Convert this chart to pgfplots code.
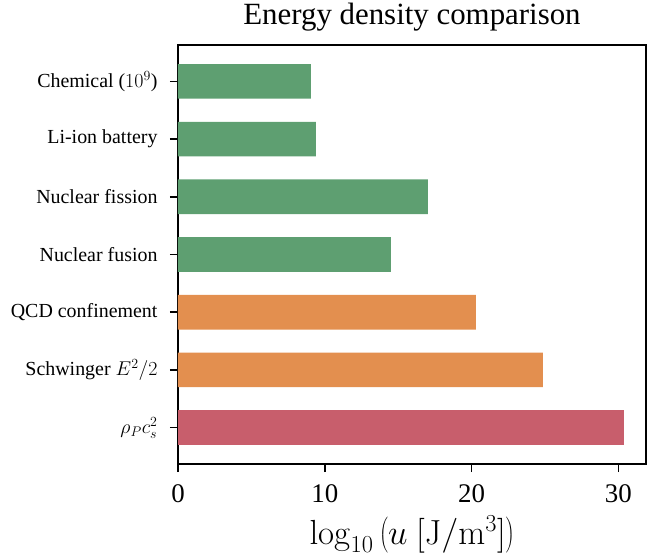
\documentclass[border=0pt]{standalone}
\usepackage{fix-cm}
\usepackage[no-math]{fontspec}
\setmainfont{Liberation Serif}
\usepackage{pgfplots}
\pgfplotsset{compat=1.18}
\definecolor{cgreen}{RGB}{94,159,113}
\definecolor{corange}{RGB}{227,143,79}
\definecolor{cred}{RGB}{200,94,108}
\pgfplotstableread{
y x
0 9.05
1 9.39
2 17.02
3 14.50
}\greentab
\pgfplotstableread{
y x
4 20.29
5 24.86
}\orangetab
\pgfplotstableread{
y x
6 30.37
}\redtab
\begin{document}
\begin{tikzpicture}
\begin{axis}[
  xbar, bar shift=0pt, bar width=0.6,
  scale only axis,
  width=468bp, height=419bp,
  xmin=0, xmax=31.88,
  ymin=-0.63, ymax=6.63,
  y dir=reverse,
  ytick={0,1,2,3,4,5,6},
  yticklabels={Chemical ($10^9$), Li-ion battery, Nuclear fission, Nuclear fusion, QCD confinement, Schwinger $E^2/2$, $\rho_P c_s^2$},
  xtick={0,10,20,30},
  tick align=outside,
  xtick pos=bottom, ytick pos=left,
  major tick length=8bp,
  tick style={black, line width=1.5bp},
  axis line style={black, line width=1.8bp},
  /pgf/number format/assume math mode=true,
  y tick label style={font=\fontsize{20}{22}\selectfont, xshift=-9bp},
  x tick label style={font=\fontsize{27}{30}\selectfont, yshift=-9bp},
  title={Energy density comparison},
  title style={font=\fontsize{31}{35}\selectfont, yshift=4bp},
  xlabel={$\log_{10}\left(u\ [\mathrm{J/m^3}]\right)$},
  xlabel style={font=\fontsize{35}{39}\selectfont, at={(axis description cs:0.5,0)}, anchor=base, yshift=-80bp},
  every axis plot/.append style={draw=none},
]
\addplot[fill=cgreen] table[x=x,y=y] {\greentab};
\addplot[fill=corange] table[x=x,y=y] {\orangetab};
\addplot[fill=cred] table[x=x,y=y] {\redtab};
\end{axis}
\pgfresetboundingbox
\path ([xshift=-178bp,yshift=-93bp]current axis.south west) rectangle ([xshift=16bp,yshift=45bp]current axis.north east);
\end{tikzpicture}
\end{document}
